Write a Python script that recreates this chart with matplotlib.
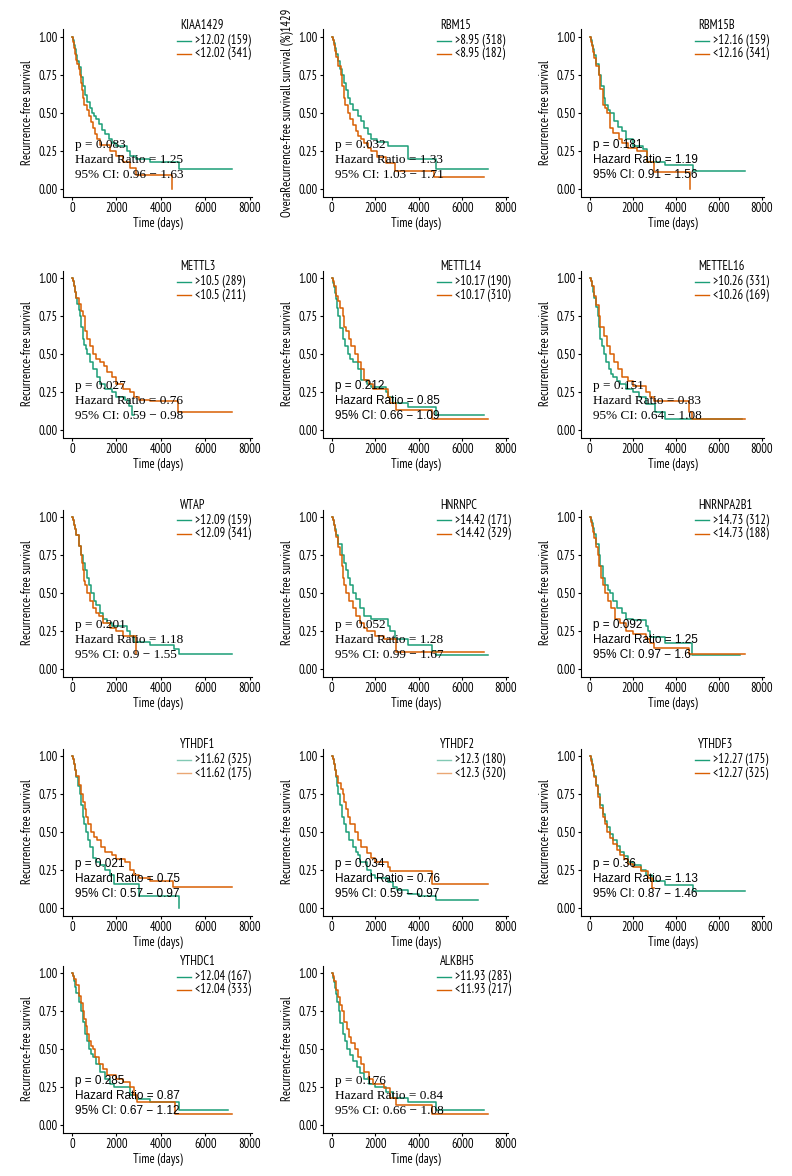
import matplotlib
matplotlib.use('Agg')
import matplotlib.pyplot as plt
from matplotlib.lines import Line2D
from matplotlib import font_manager

# Kaplan-Meier Kurven, Werte
genes = ['KIAA1429', 'RBM15', 'RBM15B', 'METTL3', 'METTL14', 'METTEL16', 'WTAP',
         'HNRNPC', 'HNRNPA2B1', 'YTHDF1', 'YTHDF2', 'YTHDF3', 'YTHDC1', 'ALKBH5']
cutoffs = ['12.02', '8.95', '12.16', '10.5', '10.17', '10.26', '12.09',
           '14.42', '14.73', '11.62', '12.3', '12.27', '12.04', '11.93']
n_high = [159, 318, 159, 289, 190, 331, 159, 171, 312, 325, 180, 175, 167, 283]
n_low = [341, 182, 341, 211, 310, 169, 341, 329, 188, 175, 320, 325, 333, 217]
p_vals = ['0.083', '0.032', '0.181', '0.027', '0.212', '0.151', '0.201',
          '0.052', '0.092', '0.021', '0.034', '0.36', '0.285', '0.176']
hr_vals = ['1.25', '1.33', '1.19', '0.76', '0.85', '0.83', '1.18',
           '1.28', '1.25', '0.75', '0.76', '1.13', '0.87', '0.84']
ci_low = ['0.96', '1.03', '0.91', '0.59', '0.66', '0.64', '0.9',
          '0.99', '0.97', '0.57', '0.59', '0.87', '0.67', '0.66']
ci_high = ['1.63', '1.71', '1.56', '0.98', '1.09', '1.08', '1.55',
           '1.67', '1.6', '0.97', '0.97', '1.46', '1.12', '1.08']
serif_stats = [True, True, False, True, False, True, True,
               True, False, False, False, False, False, True]
pale_keys = [False] * 9 + [True, True] + [False] * 3

# Zeitpunkte (Tage) und Ueberlebensanteile, jeweils hoch / niedrig
kiaa1429_hi_t = [0, 50, 100, 150, 200, 250, 300, 400, 500, 600, 700, 800, 900, 1000, 1100, 1200, 1350, 1500, 1650, 1800, 2000, 2500, 2600, 2900, 3500, 4800, 7200]
kiaa1429_hi_s = [1, .98, .95, .92, .88, .84, .80, .74, .68, .62, .57, .53, .50, .48, .46, .43, .39, .36, .33, .30, .28, .25, .22, .20, .18, .13, .13]
kiaa1429_lo_t = [0, 50, 100, 150, 200, 250, 300, 350, 400, 450, 500, 560, 700, 750, 850, 950, 1050, 1150, 1250, 1700, 2000, 2300, 2600, 2900, 4500, 4500]
kiaa1429_lo_s = [1, .97, .93, .89, .85, .82, .79, .75, .70, .65, .60, .55, .52, .48, .44, .40, .36, .33, .29, .25, .22, .18, .14, .09, 0, 0]

rbm15_hi_t = [0, 50, 100, 150, 200, 300, 400, 460, 550, 650, 740, 850, 970, 1200, 1350, 1500, 1650, 1800, 2100, 2580, 3500, 4770, 7200]
rbm15_hi_s = [1, .98, .96, .93, .89, .84, .79, .75, .70, .65, .60, .56, .52, .48, .45, .40, .36, .33, .31, .28, .20, .13, .13]
rbm15_lo_t = [0, 50, 100, 150, 200, 300, 430, 480, 550, 620, 740, 850, 970, 1100, 1200, 1350, 1500, 1650, 1800, 2100, 2500, 2900, 4700, 7000]
rbm15_lo_s = [1, .98, .95, .91, .87, .81, .75, .68, .60, .55, .50, .46, .42, .38, .35, .33, .30, .27, .25, .21, .17, .12, .08, .08]

rbm15b_hi_t = [0, 50, 100, 150, 200, 300, 450, 550, 650, 730, 850, 960, 1150, 1300, 1500, 1700, 2000, 2500, 2660, 3500, 4800, 7200]
rbm15b_hi_s = [1, .98, .95, .92, .88, .82, .75, .68, .60, .55, .52, .50, .45, .41, .38, .33, .28, .26, .18, .16, .12, .12]
rbm15b_lo_t = [0, 50, 100, 150, 200, 300, 420, 500, 600, 700, 800, 960, 1100, 1350, 1500, 1800, 2200, 2660, 2970, 4640, 4640]
rbm15b_lo_s = [1, .97, .94, .90, .86, .81, .75, .66, .55, .53, .50, .40, .37, .33, .30, .27, .25, .18, .11, 0, 0]

mettl3_hi_t = [0, 50, 100, 150, 200, 250, 300, 360, 420, 480, 550, 620, 690, 800, 960, 1110, 1260, 1500, 1800, 2000, 2400, 2550, 2700, 2800]
mettl3_hi_s = [1, .98, .95, .91, .87, .83, .79, .75, .68, .60, .56, .53, .50, .45, .40, .35, .30, .27, .25, .22, .20, .16, .10, .10]
mettl3_lo_t = [0, 50, 100, 150, 200, 300, 400, 480, 580, 700, 800, 960, 1100, 1260, 1450, 1560, 1800, 2000, 2300, 2600, 2800, 3000, 3500, 4750, 7200]
mettl3_lo_s = [1, .98, .95, .91, .87, .83, .78, .75, .65, .60, .55, .50, .47, .45, .42, .38, .35, .30, .27, .25, .22, .20, .19, .12, .12]

mettl14_hi_t = [0, 50, 100, 150, 200, 250, 310, 400, 500, 600, 740, 850, 970, 1200, 1350, 1600, 1800, 2500, 2600, 2800, 3500, 4800, 7000]
mettl14_hi_s = [1, .97, .94, .90, .86, .80, .75, .67, .60, .55, .50, .47, .45, .40, .33, .30, .28, .25, .22, .18, .15, .10, .10]
mettl14_lo_t = [0, 50, 100, 200, 300, 400, 500, 580, 660, 780, 890, 1050, 1200, 1350, 1500, 1700, 1900, 2600, 2700, 2950, 4600, 7200]
mettl14_lo_s = [1, .98, .95, .88, .85, .80, .75, .68, .65, .60, .55, .50, .45, .40, .33, .30, .27, .22, .18, .13, .07, .07]

mettel16_hi_t = [0, 50, 100, 150, 200, 280, 370, 430, 500, 570, 650, 760, 880, 1000, 1100, 1250, 1400, 1700, 2000, 2300, 2600, 3050, 3500, 7100]
mettel16_hi_s = [1, .98, .95, .91, .87, .81, .75, .68, .60, .55, .50, .45, .40, .37, .35, .32, .30, .27, .25, .22, .17, .12, .07, .07]
mettel16_lo_t = [0, 50, 100, 200, 300, 420, 500, 650, 800, 960, 1150, 1300, 1500, 1800, 2000, 2600, 2800, 3000, 4600, 4750, 7200]
mettel16_lo_s = [1, .98, .95, .88, .82, .75, .68, .62, .55, .50, .45, .40, .35, .32, .29, .25, .22, .19, .12, .07, .07]

wtap_hi_t = [0, 50, 100, 150, 200, 300, 430, 500, 580, 660, 770, 880, 1000, 1100, 1260, 1400, 1600, 1800, 2500, 2600, 2800, 3500, 4600, 4800, 7200]
wtap_hi_s = [1, .98, .95, .92, .88, .81, .75, .70, .65, .60, .55, .50, .45, .42, .37, .33, .30, .28, .25, .22, .18, .16, .13, .10, .10]
wtap_lo_t = [0, 50, 100, 150, 200, 300, 400, 460, 510, 560, 600, 690, 800, 960, 1100, 1200, 1400, 1700, 2000, 2300, 2900, 2900]
wtap_lo_s = [1, .98, .95, .92, .88, .81, .75, .70, .65, .58, .55, .50, .45, .40, .37, .35, .30, .27, .25, .22, .10, .10]

hnrnpc_hi_t = [0, 50, 100, 150, 200, 300, 460, 550, 650, 740, 850, 970, 1100, 1280, 1500, 1800, 2600, 2700, 2900, 3500, 4600, 4800, 7200]
hnrnpc_hi_s = [1, .98, .95, .92, .88, .82, .75, .70, .65, .60, .55, .50, .46, .40, .35, .33, .28, .25, .20, .16, .12, .09, .09]
hnrnpc_lo_t = [0, 50, 100, 150, 200, 300, 400, 450, 510, 580, 660, 800, 970, 1100, 1300, 1500, 1600, 2000, 2400, 2950, 7000]
hnrnpc_lo_s = [1, .98, .95, .91, .87, .80, .75, .68, .60, .55, .50, .45, .40, .35, .30, .27, .25, .22, .20, .11, .11]

hnrnpa2b1_hi_t = [0, 50, 100, 150, 200, 300, 420, 500, 600, 730, 850, 960, 1100, 1270, 1500, 1700, 2000, 2600, 2700, 2800, 3500, 4750, 7000]
hnrnpa2b1_hi_s = [1, .98, .96, .93, .89, .82, .75, .68, .60, .55, .52, .50, .45, .40, .37, .33, .32, .28, .25, .21, .17, .09, .09]
hnrnpa2b1_lo_t = [0, 50, 100, 150, 200, 300, 370, 450, 540, 620, 700, 850, 1000, 1200, 1400, 1700, 2000, 2600, 2800, 3000, 4600, 7200]
hnrnpa2b1_lo_s = [1, .97, .94, .90, .86, .80, .75, .68, .60, .55, .50, .45, .40, .33, .30, .25, .23, .20, .17, .14, .10, .10]

ythdf1_hi_t = [0, 50, 100, 150, 200, 280, 360, 420, 480, 550, 630, 720, 810, 960, 1100, 1260, 1500, 1700, 1900, 3000, 4800, 4800]
ythdf1_hi_s = [1, .98, .95, .91, .86, .80, .75, .68, .60, .55, .50, .45, .40, .33, .30, .28, .25, .22, .16, .08, 0, 0]
ythdf1_lo_t = [0, 50, 100, 150, 200, 300, 430, 500, 580, 650, 730, 880, 1000, 1110, 1300, 1500, 1800, 2000, 2400, 2600, 2800, 3000, 3500, 4550, 7200]
ythdf1_lo_s = [1, .98, .95, .91, .87, .81, .75, .70, .65, .60, .55, .50, .47, .45, .40, .37, .35, .32, .30, .25, .22, .20, .18, .14, .14]

ythdf2_hi_t = [0, 50, 100, 150, 200, 250, 310, 380, 460, 550, 660, 800, 970, 1100, 1200, 1300, 1600, 1800, 2000, 2600, 2800, 3000, 3500, 4000, 4800, 6700]
ythdf2_hi_s = [1, .98, .95, .91, .86, .80, .75, .68, .60, .55, .50, .45, .40, .37, .35, .30, .25, .22, .20, .17, .14, .12, .09, .08, .05, .05]
ythdf2_lo_t = [0, 50, 100, 150, 200, 300, 420, 510, 580, 660, 760, 860, 1050, 1200, 1350, 1600, 1800, 2000, 2600, 2700, 4600, 7200]
ythdf2_lo_s = [1, .98, .95, .91, .87, .82, .78, .75, .70, .65, .60, .55, .50, .45, .40, .36, .33, .30, .27, .24, .16, .16]

ythdf3_hi_t = [0, 50, 100, 150, 200, 300, 400, 500, 600, 700, 800, 950, 1100, 1250, 1400, 1600, 1800, 2000, 2400, 2600, 2900, 3500, 4800, 7200]
ythdf3_hi_s = [1, .98, .95, .91, .87, .81, .75, .68, .62, .57, .53, .49, .45, .41, .37, .34, .30, .28, .25, .22, .18, .15, .11, .11]
ythdf3_lo_t = [0, 50, 100, 150, 200, 300, 400, 500, 600, 700, 800, 950, 1100, 1250, 1400, 1600, 1800, 2000, 2400, 2700, 2900, 3000]
ythdf3_lo_s = [1, .97, .94, .90, .86, .80, .73, .66, .60, .55, .50, .46, .42, .38, .35, .32, .29, .27, .24, .20, .13, .13]

ythdc1_hi_t = [0, 50, 100, 150, 200, 300, 400, 480, 580, 680, 780, 870, 960, 1100, 1260, 1500, 1700, 1900, 2600, 2900, 3500, 4800, 7000]
ythdc1_hi_s = [1, .98, .95, .91, .87, .81, .75, .68, .60, .55, .50, .47, .45, .40, .35, .30, .27, .25, .20, .17, .15, .10, .10]
ythdc1_lo_t = [0, 50, 100, 200, 300, 400, 480, 560, 630, 700, 780, 870, 960, 1050, 1200, 1400, 1600, 2000, 2300, 2600, 2800, 2950, 4650, 7200]
ythdc1_lo_s = [1, .98, .96, .92, .85, .80, .75, .70, .65, .60, .55, .52, .50, .45, .40, .37, .33, .30, .28, .25, .20, .15, .07, .07]

alkbh5_hi_t = [0, 50, 100, 150, 200, 250, 320, 400, 500, 600, 720, 850, 1000, 1150, 1300, 1500, 1700, 2000, 2500, 2800, 3500, 4800, 7000]
alkbh5_hi_s = [1, .97, .94, .90, .86, .81, .75, .67, .60, .55, .50, .46, .42, .38, .34, .30, .27, .25, .22, .18, .15, .10, .10]
alkbh5_lo_t = [0, 50, 100, 200, 300, 400, 480, 580, 680, 800, 900, 1050, 1200, 1350, 1500, 1700, 1900, 2400, 2700, 2950, 4600, 7200]
alkbh5_lo_s = [1, .98, .95, .89, .84, .79, .75, .68, .63, .58, .54, .50, .45, .40, .35, .30, .27, .24, .18, .13, .07, .07]

curves_hi = [(kiaa1429_hi_t, kiaa1429_hi_s), (rbm15_hi_t, rbm15_hi_s), (rbm15b_hi_t, rbm15b_hi_s),
             (mettl3_hi_t, mettl3_hi_s), (mettl14_hi_t, mettl14_hi_s), (mettel16_hi_t, mettel16_hi_s),
             (wtap_hi_t, wtap_hi_s), (hnrnpc_hi_t, hnrnpc_hi_s), (hnrnpa2b1_hi_t, hnrnpa2b1_hi_s),
             (ythdf1_hi_t, ythdf1_hi_s), (ythdf2_hi_t, ythdf2_hi_s), (ythdf3_hi_t, ythdf3_hi_s),
             (ythdc1_hi_t, ythdc1_hi_s), (alkbh5_hi_t, alkbh5_hi_s)]
curves_lo = [(kiaa1429_lo_t, kiaa1429_lo_s), (rbm15_lo_t, rbm15_lo_s), (rbm15b_lo_t, rbm15b_lo_s),
             (mettl3_lo_t, mettl3_lo_s), (mettl14_lo_t, mettl14_lo_s), (mettel16_lo_t, mettel16_lo_s),
             (wtap_lo_t, wtap_lo_s), (hnrnpc_lo_t, hnrnpc_lo_s), (hnrnpa2b1_lo_t, hnrnpa2b1_lo_s),
             (ythdf1_lo_t, ythdf1_lo_s), (ythdf2_lo_t, ythdf2_lo_s), (ythdf3_lo_t, ythdf3_lo_s),
             (ythdc1_lo_t, ythdc1_lo_s), (alkbh5_lo_t, alkbh5_lo_s)]

ylabels = ['Recurrence-free survival'] * 14
ylabels[1] = 'OveraRecurrence-free survivall survival (%)1429'

# schmale Schrift suchen (Vorlage nutzt eine Condensed-Schrift)
installed = set(f.name for f in font_manager.fontManager.ttflist)
narrow_choices = ['PT Sans Narrow', 'Roboto Condensed', 'Fira Sans Condensed', 'Archivo Narrow',
                  'IBM Plex Sans Condensed', 'Encode Sans Condensed', 'Open Sans Condensed',
                  'Asap Condensed', 'Barlow Semi Condensed', 'Liberation Sans Narrow']
NARROW = [n for n in narrow_choices if n in installed][:1] + ['DejaVu Sans']

# Layout in Pixeln
W, H = 792, 1176
GREEN = '#1b9e77'
ORANGE = '#d95f02'
col_left = [63, 323, 581]
col_width = [189, 185, 183]
row_top = [29.5, 270.5, 509.5, 748.5, 965.5]
ax_h = 167

fig = plt.figure(figsize=(W / 100, H / 100), dpi=100)

for i, gene in enumerate(genes):
    r, c = divmod(i, 3)
    L, T = col_left[c], row_top[r]
    ax = fig.add_axes([L / W, 1 - (T + ax_h) / H, col_width[c] / W, ax_h / H])

    for (t, s), col in ((curves_hi[i], GREEN), (curves_lo[i], ORANGE)):
        ax.step(t, s, where='post', color=col, lw=1.1)

    ax.set_xlim(-400, 8100)
    ax.set_ylim(-0.05, 1.05)
    ax.set_xticks([0, 2000, 4000, 6000, 8000])
    ax.set_yticks([0, 0.25, 0.5, 0.75, 1.0])
    ax.set_yticklabels(['0.00', '0.25', '0.50', '0.75', '1.00'])
    for sp in ['top', 'right']:
        ax.spines[sp].set_visible(False)
    for sp in ['left', 'bottom']:
        ax.spines[sp].set_linewidth(0.8)
    ax.tick_params(length=2.5, width=0.8, pad=1.5, labelsize=9)
    for lab in ax.get_xticklabels() + ax.get_yticklabels():
        lab.set_family(NARROW)
    ax.set_xlabel('Time (days)', family=NARROW, fontsize=9, labelpad=1.5)
    ax.set_ylabel(ylabels[i], family=NARROW, fontsize=9, labelpad=3)

    # Statistik-Text
    if serif_stats[i]:
        fam, fs = ['Liberation Serif', 'DejaVu Serif'], 9.5
    else:
        fam, fs = ['Liberation Sans', 'DejaVu Sans'], 8.5
    stats = ['p = ' + p_vals[i], 'Hazard Ratio = ' + hr_vals[i],
             '95% CI: ' + ci_low[i] + ' \u2212 ' + ci_high[i]]
    for txt, yy in zip(stats, [0.29, 0.19, 0.09]):
        ax.text(150, yy, txt, family=fam, fontsize=fs, va='center', ha='left', zorder=5)

    # Legende
    key_alpha = 0.55 if pale_keys[i] else 1.0
    fig.text((L + 117) / W, 1 - (T - 4) / H, gene, family=NARROW, fontsize=9, va='center')
    for k, (lab, col) in enumerate([('>' + cutoffs[i] + ' (' + str(n_high[i]) + ')', GREEN),
                                    ('<' + cutoffs[i] + ' (' + str(n_low[i]) + ')', ORANGE)]):
        yy = 1 - (T + 11 + k * 13.5) / H
        fig.add_artist(Line2D([(L + 114) / W, (L + 128) / W], [yy, yy], color=col, lw=1.0,
                              alpha=key_alpha, transform=fig.transFigure))
        fig.text((L + 132) / W, yy, lab, family=NARROW, fontsize=9, va='center')

fig.savefig('out.png', dpi=100)
